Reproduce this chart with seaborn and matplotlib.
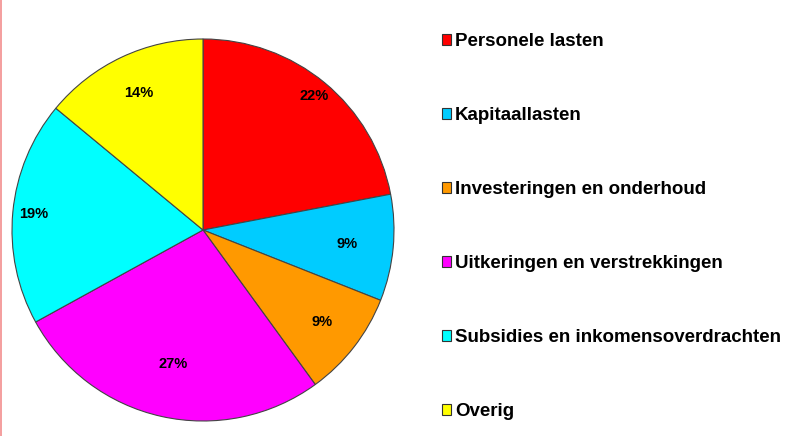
import matplotlib.pyplot as plt
import seaborn as sns
from matplotlib.patches import Patch, Rectangle

categories = [
    "Personele lasten",
    "Kapitaallasten",
    "Investeringen en onderhoud",
    "Uitkeringen en verstrekkingen",
    "Subsidies en inkomensoverdrachten",
    "Overig",
]
shares = [22, 9, 9, 27, 19, 14]
colors = ["#FF0000", "#00CCFF", "#FF9900", "#FF00FF", "#00FFFF", "#FFFF00"]

# radial position of each percentage label (fraction of radius)
label_radius = [0.91, 0.76, 0.79, 0.72, 0.89, 0.79]


def main() -> None:
    sns.set_theme(style="white")
    plt.rcParams["font.family"] = ["Liberation Sans", "DejaVu Sans"]
    plt.rcParams["text.color"] = "black"

    fig = plt.figure(figsize=(7.86, 4.36), dpi=100)
    fig.patch.set_facecolor("white")

    # pie axes: centre (203, 230) px, radius 191 px
    ax = fig.add_axes([12 / 786, 15 / 436, 382 / 786, 382 / 436])
    wedges, _, autotexts = ax.pie(
        shares,
        colors=colors,
        startangle=90,
        counterclock=False,
        autopct="%d%%",
        pctdistance=0.8,
        wedgeprops={"edgecolor": "#444444", "linewidth": 0.8},
        textprops={"fontsize": 10.5, "fontweight": "bold", "color": "black"},
    )
    for txt, r in zip(autotexts, label_radius):
        x, y = txt.get_position()
        txt.set_position((x / 0.8 * r, y / 0.8 * r))
    ax.set_xlim(-1, 1)
    ax.set_ylim(-1, 1)
    ax.set_aspect("equal")
    ax.axis("off")

    handles = [Patch(facecolor=c, edgecolor="#333333", linewidth=0.8) for c in colors]
    leg = fig.legend(
        handles,
        categories,
        loc="upper left",
        bbox_to_anchor=(442 / 786, 1 - 33 / 436),
        frameon=False,
        prop={"size": 13.5, "weight": "bold"},
        handlelength=0.5,
        handleheight=0.5,
        handletextpad=0.2,
        labelspacing=3.04,
        borderpad=0,
        borderaxespad=0,
    )
    for t in leg.get_texts():
        t.set_color("black")

    # thin pink border on the left edge
    fig.add_artist(
        Rectangle((0, 0), 2 / 786, 1, transform=fig.transFigure,
                  facecolor="#F4A0A0", edgecolor="none")
    )

    fig.savefig("out.png", dpi=100)


if __name__ == "__main__":
    main()
